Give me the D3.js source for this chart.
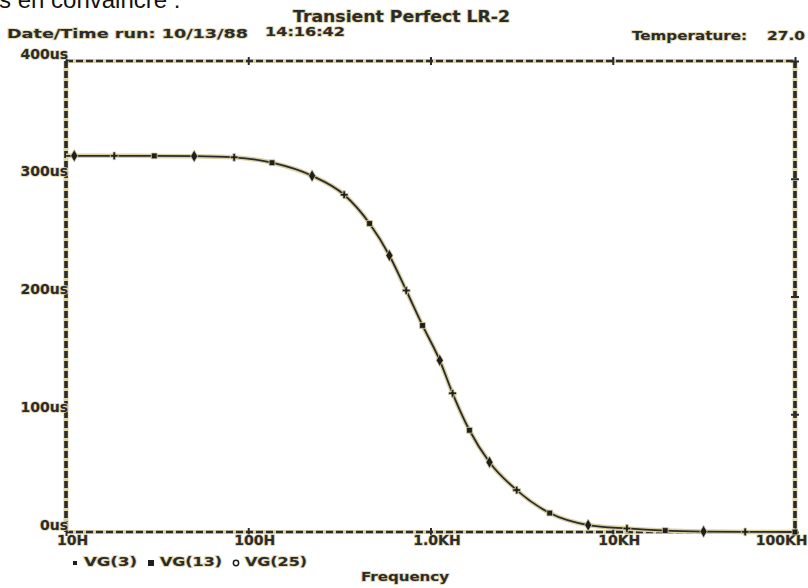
<!DOCTYPE html>
<html>
<head>
<meta charset="utf-8">
<script src="https://cdn.jsdelivr.net/npm/d3@7"></script>
<style>
  body { margin: 0; background: #fff; }
  svg { display: block; }
  .lbl { font-family: "DejaVu Sans", sans-serif; font-weight: bold; fill: #2b2b2b;
         stroke: #ddd4aa; stroke-width: 1.6px; paint-order: stroke; }
</style>
</head>
<body>
<div id="chart"></div>
<script>
/* global d3 */

// values (frequency in Hz, delay in us)
const freqs = [10, 11.1, 18.4, 30.5, 50.5, 83.7, 135, 224, 336, 463, 595, 736, 904,
  1124, 1322, 1636, 2107, 2970, 4510, 7330, 11960, 19400, 31500, 53300, 100000];
const delays = [319.5, 319.5, 319.5, 319.4, 319.2, 318.2, 313.6, 302.5, 286.4, 262, 234.8,
  205.1, 175.4, 145.8, 117.8, 86.4, 59.3, 35.6, 16.1, 5.9, 3.0, 1.2, 0.4, 0.1, 0];
const seriesNames = ['VG(3)', 'VG(13)', 'VG(25)'];
const xTicks = [10, 100, 1000, 10000, 100000];
const xTickLabels = ['10H', '100H', '1.0KH', '10KH', '100KH'];
const yTicks = [0, 100, 200, 300, 400];
const yTickLabels = ['0us', '100us', '200us', '300us', '400us'];

const width = 808;
const height = 588;
const plot = { left: 66, right: 795, top: 61, bottom: 532 };

const svg = d3.select('#chart').append('svg')
  .attr('width', width)
  .attr('height', height);

// page text cut off above the picture
svg.append('text')
  .attr('x', -1)
  .attr('y', 8)
  .attr('font-family', 'Liberation Sans, Arial, sans-serif')
  .attr('font-size', 24)
  .attr('fill', '#111')
  .text('s en convaincre :');

const x = d3.scaleLog().domain([10, 100000]).range([plot.left, plot.right]);
const y = d3.scaleLinear().domain([0, 400]).range([plot.bottom, plot.top]);

// frame: dashed lines on all four sides
const frame = [
  [plot.left, plot.top, plot.right, plot.top, 2.6],
  [plot.left, plot.bottom, plot.right, plot.bottom, 2.6],
  [plot.left, plot.top, plot.left, plot.bottom, 3.6],
  [plot.right, plot.top, plot.right, plot.bottom, 3.6],
];
frame.forEach((f) => {
  svg.append('line')
    .attr('x1', f[0]).attr('y1', f[1]).attr('x2', f[2]).attr('y2', f[3])
    .attr('stroke', '#ddd4aa')
    .attr('stroke-width', f[4] + 1.5);
  svg.append('line')
    .attr('x1', f[0]).attr('y1', f[1]).attr('x2', f[2]).attr('y2', f[3])
    .attr('stroke', '#2b2b2b')
    .attr('stroke-width', f[4])
    .attr('stroke-dasharray', '7,3');
});

// axes (only ticks + labels, domain path removed)
const styleAxis = (g) => {
  g.select('.domain').remove();
  g.selectAll('.tick line').attr('stroke', '#2b2b2b').attr('stroke-width', 2);
  g.selectAll('.tick text').attr('class', 'lbl').attr('font-size', 14);
};

svg.append('g')
  .attr('transform', `translate(0,${plot.bottom})`)
  .call(d3.axisBottom(x).tickValues(xTicks).tickFormat((d, i) => xTickLabels[i]).tickSize(0))
  .call(styleAxis)
  .call(g => g.selectAll('.tick line').attr('y1', -4).attr('y2', 4))
  .call(g => g.selectAll('.tick text').attr('y', 3).attr('dy', '0.71em')
    .attr('dx', (d, i) => (i === xTicks.length - 1 ? 12 : 6))
    .attr('text-anchor', (d, i) => (i === xTicks.length - 1 ? 'end' : 'middle')));

svg.append('g')
  .attr('transform', `translate(0,${plot.top})`)
  .call(d3.axisTop(x).tickValues(xTicks).tickFormat('').tickSize(0))
  .call(styleAxis)
  .call(g => g.selectAll('.tick line').attr('y1', -4).attr('y2', 4));

svg.append('g')
  .attr('transform', `translate(${plot.left + 5},0)`)
  .call(d3.axisLeft(y).tickValues(yTicks).tickFormat((d, i) => yTickLabels[i]).tickSize(0))
  .call(styleAxis)
  .call(g => g.selectAll('.tick text').attr('x', -3).attr('dy', '-0.2em'));

svg.append('g')
  .attr('transform', `translate(${plot.right},0)`)
  .call(d3.axisRight(y).tickValues(yTicks).tickFormat('').tickSize(0))
  .call(styleAxis)
  .call(g => g.selectAll('.tick line').attr('x1', -4).attr('x2', 4));

// the curve (three traces lie on top of each other)
const points = freqs.map((f, i) => ({ f, v: delays[i], s: i % 3 }));
const line = d3.line()
  .x(d => x(d.f))
  .y(d => y(d.v))
  .curve(d3.curveMonotoneX);

svg.append('path')
  .datum(points)
  .attr('d', line)
  .attr('fill', 'none')
  .attr('stroke', '#d8cfa2')
  .attr('stroke-width', 4.5);
svg.append('path')
  .datum(points)
  .attr('d', line)
  .attr('fill', 'none')
  .attr('stroke', '#2b2b2b')
  .attr('stroke-width', 1.8);

const symbols = [
  d3.symbol().type(d3.symbolSquare).size(34),
  d3.symbol().type(d3.symbolDiamond).size(44),
  d3.symbol().type(d3.symbolCross).size(34),
];
svg.append('g')
  .selectAll('path')
  .data(points.slice(1))
  .join('path')
  .attr('transform', d => `translate(${x(d.f)},${y(d.v)})`)
  .attr('d', d => symbols[d.s]())
  .attr('fill', '#1e1e1e')
  .attr('stroke', '#d8cfa2')
  .attr('stroke-width', 0.8);

// header texts
const header = [
  ['Transient  Perfect LR-2', 293, 22, 15, 217],
  ['Date/Time run: 10/13/88', 7, 38, 13, 241],
  ['14:16:42', 265, 36, 13, 80],
  ['Temperature:', 632, 40, 13, 115],
  ['27.0', 767, 40, 13, 38],
];
header.forEach((h) => {
  svg.append('text')
    .attr('class', 'lbl')
    .attr('x', h[1])
    .attr('y', h[2])
    .attr('font-size', h[3])
    .attr('textLength', h[4])
    .attr('lengthAdjust', 'spacingAndGlyphs')
    .text(h[0]);
});

// legend
const legendX = [72, 148, 233];
const legendSym = [
  d3.symbol().type(d3.symbolSquare).size(16),
  d3.symbol().type(d3.symbolSquare).size(36),
  d3.symbol().type(d3.symbolCircle).size(22),
];
seriesNames.forEach((name, i) => {
  svg.append('path')
    .attr('transform', `translate(${legendX[i] + 3},${563})`)
    .attr('d', legendSym[i]())
    .attr('fill', i === 2 ? 'none' : '#1e1e1e')
    .attr('stroke', i === 2 ? '#1e1e1e' : 'none')
    .attr('stroke-width', 1.5);
  svg.append('text')
    .attr('class', 'lbl')
    .attr('x', legendX[i] + 12)
    .attr('y', 566)
    .attr('font-size', 13)
    .attr('textLength', [53, 62, 62][i])
    .attr('lengthAdjust', 'spacingAndGlyphs')
    .text(name);
});

svg.append('text')
  .attr('class', 'lbl')
  .attr('x', 405)
  .attr('y', 581)
  .attr('text-anchor', 'middle')
  .attr('font-size', 12)
  .attr('textLength', 88)
  .attr('lengthAdjust', 'spacingAndGlyphs')
  .text('Frequency');
</script>
</body>
</html>
